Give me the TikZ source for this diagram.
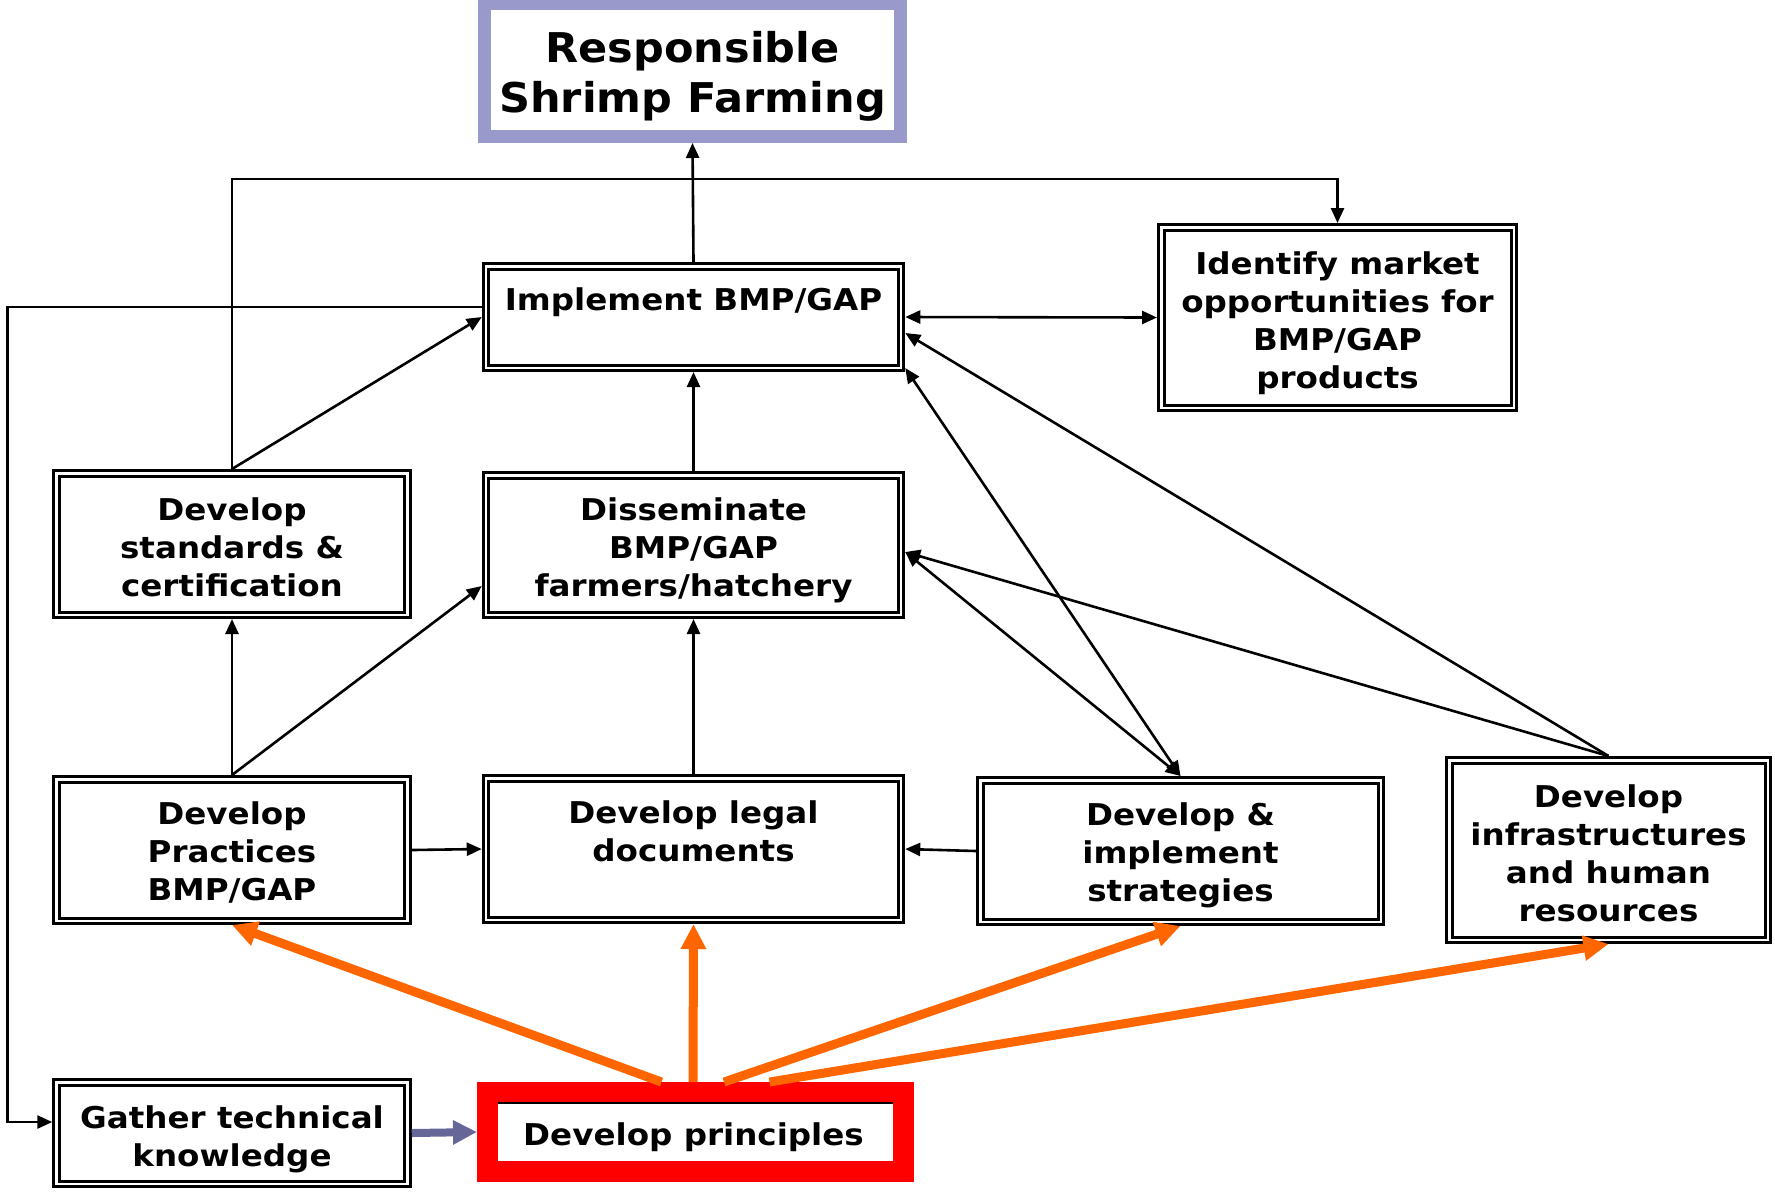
\documentclass[tikz,border=0pt]{standalone}
\usepackage{fontspec}
\usetikzlibrary{arrows.meta,calc}
\newfontfamily\vbold{DejaVu Sans Bold}[FakeStretch=1.085]
\newfontfamily\vtitle{DejaVu Sans Bold}[FakeStretch=1.05]
\definecolor{framepurple}{HTML}{9999CC}
\definecolor{linkpurple}{HTML}{666699}
\definecolor{pushorange}{HTML}{FF6600}
\begin{document}
\begin{tikzpicture}[x=0.5pt,y=-0.5pt,
  box/.style={draw=black, double=white, line width=1.5pt, double distance=1.25pt,
    fill=white, inner sep=0pt, outer sep=2.125pt},
  txt/.style={inner sep=0pt, align=center, font=\vbold\fontsize{15}{19}\selectfont},
  arr/.style={line width=1.3pt, -{Triangle[length=7.5pt,width=6.5pt]}},
  arrb/.style={line width=1.3pt, {Triangle[length=7.5pt,width=6.5pt]}-{Triangle[length=7.5pt,width=6.5pt]}},
  push/.style={draw=pushorange, line width=4.5pt, -{Triangle[length=12.5pt,width=12pt]}},
  feed/.style={draw=linkpurple, line width=4pt, -{Triangle[length=12pt,width=11.5pt]}}
]
\useasboundingbox (0,0) rectangle (1775,1191);

% goal
\node[draw=framepurple, line width=6.5pt, fill=white, inner sep=0pt, outer sep=3.25pt,
  minimum width=208pt, minimum height=66.5pt] (resp) at (692.5,70) {};
\node[inner sep=0pt, align=center, font=\vtitle\fontsize{20.5}{25}\selectfont]
  (respt) at (692.5,76) {Responsible\\Shrimp Farming};

% activity boxes
\node[box, minimum width=207.5pt, minimum height=50.75pt] (impl) at (693.5,317) {};
\node[txt] (implt) at (693.5,302) {Implement BMP/GAP};

\node[box, minimum width=176.25pt, minimum height=90.25pt] (ident) at (1337.5,317.5) {};
\node[txt] (identt) at (1337.5,323) {Identify market\\opportunities for\\BMP/GAP\\products};

\node[box, minimum width=175.5pt, minimum height=70.75pt] (stand) at (232,544) {};
\node[txt] (standt) at (232,547) {Develop\\standards \&\\certification};

\node[box, minimum width=207.5pt, minimum height=69.75pt] (dissem) at (693.5,545) {};
\node[txt] (dissemt) at (693.5,550) {Disseminate\\BMP/GAP\\farmers/hatchery};

\node[box, minimum width=175.5pt, minimum height=70.75pt] (pract) at (232,850) {};
\node[txt] (practt) at (232,852) {Develop\\Practices\\BMP/GAP};

\node[box, minimum width=207.5pt, minimum height=70.75pt] (legal) at (693.5,849) {};
\node[txt] (legalt) at (693.5,831) {Develop legal\\documents};

\node[box, minimum width=200.25pt, minimum height=70.75pt] (strat) at (1180.5,851) {};
\node[txt] (stratt) at (1180.5,855) {Develop \&\\implement\\strategies};

\node[box, minimum width=159.25pt, minimum height=89.75pt] (infra) at (1608.5,850) {};
\node[txt] (infrat) at (1608.5,853) {Develop\\infrastructures\\and human\\resources};

\node[box, minimum width=175.5pt, minimum height=50.75pt] (gather) at (232,1133) {};
\node[txt] (gathert) at (232,1139) {Gather technical\\knowledge};

\node[draw=red, line width=10.5pt, fill=white, inner sep=0pt, outer sep=5.25pt,
  minimum width=208pt, minimum height=39.5pt] (prin) at (695.5,1132) {};
\node[txt] (print) at (693.5,1137) {Develop principles};
\draw[line width=0.75pt] ([xshift=10.5pt,yshift=-10.5pt]prin.north west)
  -- ([xshift=-10.5pt,yshift=-10.5pt]prin.north east);

% black connectors
\draw[arr] (impl.north) -- (resp.south);
\draw[arr] (stand.north) |- (ident.north |- 0,179) -- (ident.north);
\draw[arr] (stand.north) -- (impl.west);
\draw[arr] ([yshift=5pt]impl.west) -| ([xshift=-22.5pt,yshift=5.5pt]gather.west)
  -- ([yshift=5.5pt]gather.west);
\draw[arrb] (impl.east) -- (ident.west);
\draw[arr] (dissem.north) -- (impl.south);
\draw[arr] (pract.north) -- (stand.south);
\draw[arr] (pract.north) -- ([yshift=-20.5pt]dissem.west);
\draw[arr] (legal.north) -- (dissem.south);
\draw[arr] (pract.east) -- (legal.west);
\draw[arr] (strat.west) -- (legal.east);
\draw[arrb] ([yshift=2pt]impl.south east) -- (strat.north);
\draw[arrb] ([yshift=-3.5pt]dissem.east) -- (strat.north);
\draw[arr] (infra.north) -- ([yshift=-8pt]impl.east);
\draw[arr] (infra.north) -- ([yshift=-3.5pt]dissem.east);

% principles feed every development track
\draw[push] ([xshift=-17pt]prin.north) -- (pract.south);
\draw[push] ([xshift=-1.25pt]prin.north) -- (legal.south);
\draw[push] ([xshift=14.25pt]prin.north) -- (strat.south);
\draw[push] ([xshift=37pt]prin.north) -- (infra.south);

\draw[feed] (gather.east) -- (prin.west);
\end{tikzpicture}
\end{document}
